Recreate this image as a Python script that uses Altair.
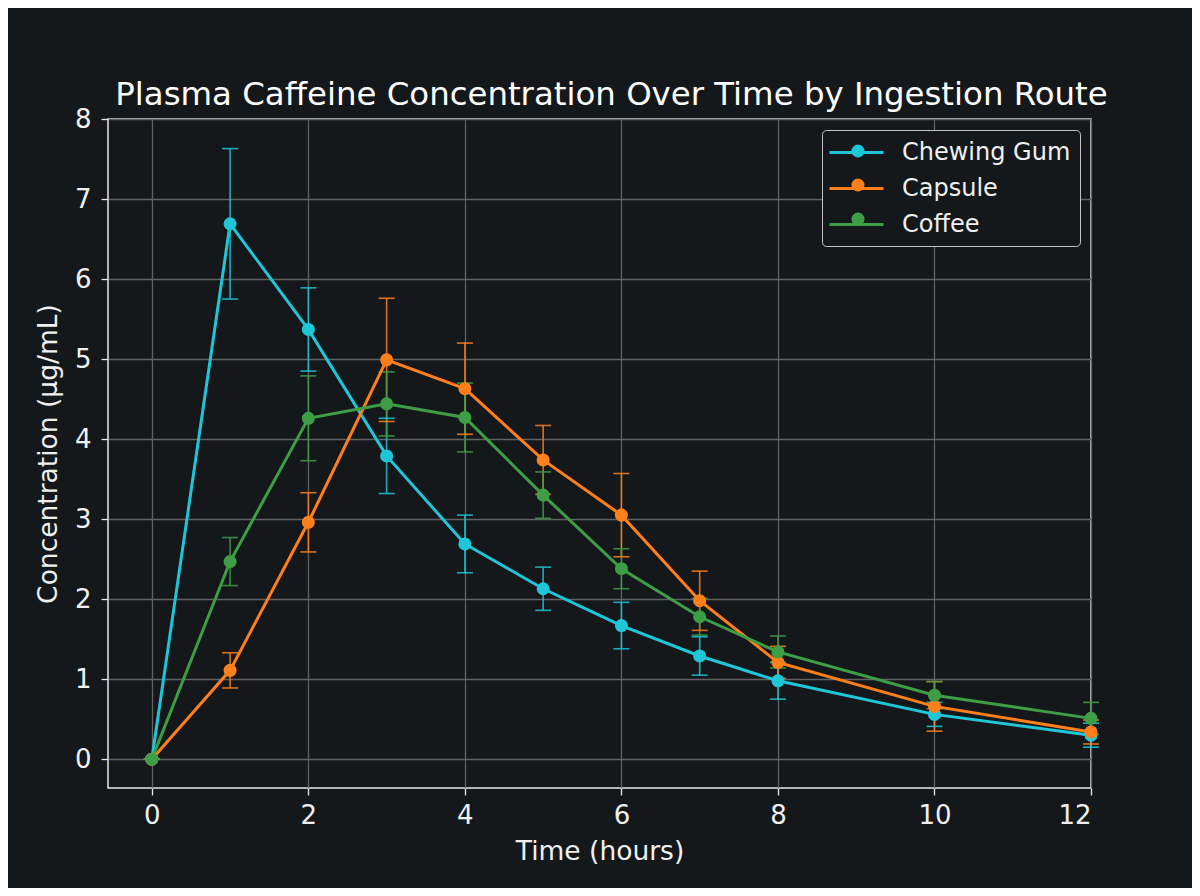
import altair as alt
import pandas as pd

times = [0, 1, 2, 3, 4, 5, 6, 7, 8, 10, 12]
series_names = ["Chewing Gum", "Capsule", "Coffee"]
gum = [0, 6.69, 5.37, 3.79, 2.69, 2.13, 1.67, 1.29, 0.98, 0.56, 0.30]
gum_err = [0, 0.94, 0.52, 0.47, 0.36, 0.27, 0.29, 0.24, 0.23, 0.15, 0.15]
capsule = [0, 1.11, 2.96, 4.99, 4.63, 3.74, 3.05, 1.98, 1.21, 0.66, 0.34]
capsule_err = [0, 0.22, 0.37, 0.77, 0.57, 0.43, 0.52, 0.37, 0.20, 0.31, 0.15]
coffee = [0, 2.47, 4.26, 4.44, 4.27, 3.30, 2.38, 1.78, 1.34, 0.80, 0.51]
coffee_err = [0, 0.30, 0.53, 0.40, 0.43, 0.29, 0.25, 0.23, 0.20, 0.17, 0.20]
colors = ["#1fc6d8", "#ff7f1a", "#3d9e45"]

rows = []
for name, vals, errs in [("Chewing Gum", gum, gum_err), ("Capsule", capsule, capsule_err), ("Coffee", coffee, coffee_err)]:
    for t, v, e in zip(times, vals, errs):
        rows.append({"series": name, "t": t, "c": v, "lo": v - e, "hi": v + e})
df = pd.DataFrame(rows)

BG = "#15181b"
FONT = "DejaVu Sans"
TXT = "#f0f0f0"

xs = alt.Scale(domain=[-0.56, 12], nice=False, zero=False)
ys = alt.Scale(domain=[-0.36, 8], nice=False, zero=False)
cs = alt.Scale(domain=series_names, range=colors)

x = alt.X("t:Q", scale=xs, title="Time (hours)",
          axis=alt.Axis(values=[0, 2, 4, 6, 8, 10, 12], format="d", labelPadding=7, titlePadding=10))
y = alt.Y("c:Q", scale=ys, title="Concentration (µg/mL)",
          axis=alt.Axis(values=[0, 1, 2, 3, 4, 5, 6, 7, 8], format="d", labelPadding=10, titlePadding=12))

base = alt.Chart(df)

err_rule = base.mark_rule(strokeWidth=1.6, opacity=0.85).encode(
    x=alt.X("t:Q", scale=xs), y=alt.Y("lo:Q", scale=ys), y2="hi:Q",
    color=alt.Color("series:N", scale=cs, legend=None),
)
cap_lo = base.mark_tick(orient="horizontal", size=16, thickness=1.6, opacity=0.85).encode(
    x=alt.X("t:Q", scale=xs), y=alt.Y("lo:Q", scale=ys),
    color=alt.Color("series:N", scale=cs, legend=None),
)
cap_hi = base.mark_tick(orient="horizontal", size=16, thickness=1.6, opacity=0.85).encode(
    x=alt.X("t:Q", scale=xs), y=alt.Y("hi:Q", scale=ys),
    color=alt.Color("series:N", scale=cs, legend=None),
)

# legend part 1: the line segment and the labels, inside the framed box
leg_lines = alt.Legend(
    title=None, orient="none", legendX=714, legendY=11,
    symbolType="M-1.25,0L3.25,0", symbolSize=576, symbolStrokeWidth=3,
    labelFontSize=24, labelFont=FONT, labelColor=TXT, labelOffset=44, labelLimit=400,
    rowPadding=10, padding=9,
    fillColor=BG, strokeColor="#c4c4c4", cornerRadius=4,
)
lines = base.mark_line(strokeWidth=3).encode(
    x=x, y=y,
    color=alt.Color("series:N", scale=cs, legend=leg_lines),
    detail="series:N",
    order="t:Q",
)

# legend part 2: the dots only (blank labels), laid over the middle of each line segment
leg_dots = alt.Legend(
    title=None, orient="none", legendX=729, legendY=11,
    symbolType="circle", symbolSize=170, symbolStrokeWidth=0,
    labelExpr="' '",
    labelFontSize=24, labelFont=FONT, labelOpacity=0, labelOffset=16,
    rowPadding=10, padding=9,
    fillColor="transparent", strokeColor="transparent",
)
points = base.mark_point(filled=True, size=170, opacity=1).encode(
    x=alt.X("t:Q", scale=xs), y=alt.Y("c:Q", scale=ys),
    fill=alt.Fill("series:N", scale=cs, legend=leg_dots),
)

chart = alt.layer(err_rule, cap_lo, cap_hi, lines, points).resolve_legend(
    color="independent", fill="independent"
).properties(
    width=983, height=669,
    autosize=alt.AutoSizeParams(type="none"),
    padding={"left": 100, "top": 111, "right": 101, "bottom": 100},
    background=BG,
    title=alt.Title("Plasma Caffeine Concentration Over Time by Ingestion Route",
                    fontSize=32.4, font=FONT, fontWeight="normal", color="#ffffff",
                    offset=0, dy=5, anchor="middle", dx=12),
).configure_view(
    stroke="#e8e8e8", strokeWidth=1.5, fill=BG,
).configure_axis(
    grid=True, gridColor="#626262", gridWidth=1.3, gridOpacity=1,
    domain=False, tickColor="#e8e8e8", tickSize=7, tickWidth=1.3,
    labelColor=TXT, labelFont=FONT, labelFontSize=26,
    titleColor=TXT, titleFont=FONT, titleFontSize=26.5, titleFontWeight="normal",
)

chart.save("out.html", embed_options={"renderer": "svg", "actions": False})
